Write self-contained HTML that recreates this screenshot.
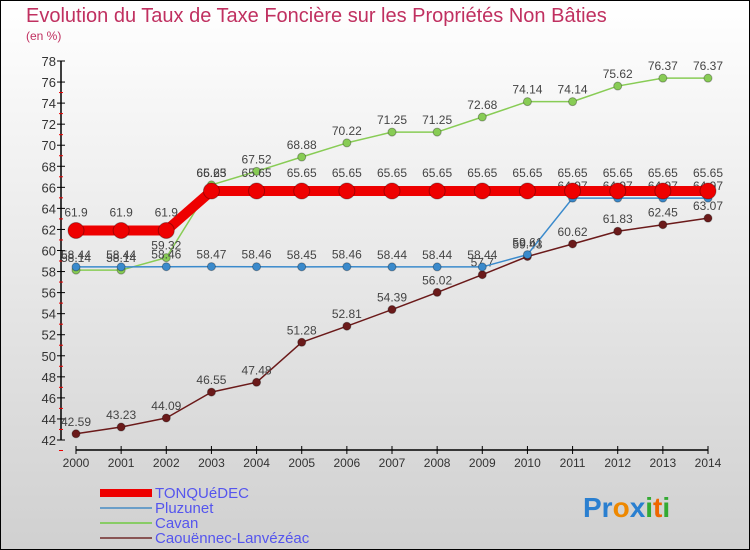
<!DOCTYPE html>
<html><head><meta charset="utf-8"><style>
body{margin:0;}
#wrap{width:750px;height:550px;position:relative;overflow:hidden;font-family:"Liberation Sans",sans-serif;}
svg{position:absolute;left:0;top:0;}
</style></head><body>
<div id="wrap">
<svg id="chart" width="750" height="550">
<defs><linearGradient id="bg" x1="0" y1="0" x2="0" y2="1"><stop offset="0" stop-color="#ffffff"/><stop offset="1" stop-color="#d0d0d0"/></linearGradient></defs>
<rect x="0.5" y="0.5" width="749" height="549" fill="url(#bg)" stroke="#000"/>
<text x="26" y="22" font-size="20" fill="#c03060">Evolution du Taux de Taxe Foncière sur les Propriétés Non Bâties</text>
<text x="26" y="40" font-size="12" fill="#c03060">(en %)</text>
<g id="axes"></g><g id="series"></g>
<g>
<rect x="100" y="489" width="52" height="8" fill="#e00"/>
<text x="155" y="498" font-size="15" fill="#5555ee">TONQUéDEC</text>
<line x1="100" y1="508" x2="152" y2="508" stroke="#6a9ec8" stroke-width="2"/>
<text x="155" y="513" font-size="15" fill="#5555ee">Pluzunet</text>
<line x1="100" y1="523" x2="152" y2="523" stroke="#88cc66" stroke-width="2"/>
<text x="155" y="528" font-size="15" fill="#5555ee">Cavan</text>
<line x1="100" y1="538" x2="152" y2="538" stroke="#885555" stroke-width="2"/>
<text x="155" y="543" font-size="15" fill="#5555ee">Caouënnec-Lanvézéac</text>
</g>
<text x="583" y="517" font-size="28" font-weight="bold"><tspan fill="#2a7fd0">Pr</tspan><tspan fill="#ee8800">o</tspan><tspan fill="#2a7fd0">x</tspan><tspan fill="#33aa33">i</tspan><tspan fill="#ee6600">t</tspan><tspan fill="#33aa33">i</tspan></text>
</svg>
</div>
<script>
const years=[2000,2001,2002,2003,2004,2005,2006,2007,2008,2009,2010,2011,2012,2013,2014];
const yTicks=[42,44,46,48,50,52,54,56,58,60,62,64,66,68,70,72,74,76,78];
const tonquedec=[61.9,61.9,61.9,65.65,65.65,65.65,65.65,65.65,65.65,65.65,65.65,65.65,65.65,65.65,65.65];
const pluzunet=[58.44,58.44,58.46,58.47,58.46,58.45,58.46,58.44,58.44,58.44,59.61,64.97,64.97,64.97,64.97];
const cavan=[58.14,58.14,59.32,66.23,67.52,68.88,70.22,71.25,71.25,72.68,74.14,74.14,75.62,76.37,76.37];
const caouennec=[42.59,43.23,44.09,46.55,47.48,51.28,52.81,54.39,56.02,57.7,59.43,60.62,61.83,62.45,63.07];
const NS="http://www.w3.org/2000/svg";
function xs(i){return 76+i*(708-76)/(years.length-1);}
function ys(v){return 440-(v-42)*(440-61)/36;}
function mk(t,a,p){const e=document.createElementNS(NS,t);for(const k in a)e.setAttribute(k,a[k]);p.appendChild(e);return e;}
const ax=document.getElementById('axes');
const yl=mk('line',{x1:61,y1:61,x2:61,y2:440,stroke:'#000','stroke-width':1.5},ax);


yTicks.forEach(v=>{const y=ys(v);
mk('line',{x1:57,y1:y,x2:65,y2:y,stroke:'#000'},ax);
mk('line',{x1:59,y1:y+10.5,x2:63,y2:y+10.5,stroke:v<78?'#e00':'none'},ax);
const t=mk('text',{x:56,y:y+5,'font-size':13,fill:'#333','text-anchor':'end'},ax);t.textContent=v;

});
const xl=mk('line',{x1:76,y1:450,x2:708,y2:450,stroke:'#000','stroke-width':1.5},ax);


years.forEach((yr,i)=>{const x=xs(i);mk('line',{x1:x,y1:446,x2:x,y2:454,stroke:'#000'},ax);
const t=mk('text',{x:x,y:467,'font-size':12,fill:'#333','text-anchor':'middle'},ax);t.textContent=yr;

});
const sg=document.getElementById('series');
function series(name,data,color,w,r,dy){
const g=mk('g',{},sg);


mk('polyline',{points:data.map((v,i)=>xs(i)+','+ys(v)).join(' '),fill:'none',stroke:color,'stroke-width':w,'stroke-linejoin':'round'},g);
data.forEach((v,i)=>{const c=mk('circle',{cx:xs(i),cy:ys(v),r:r,fill:color,stroke:'rgba(0,0,0,0.3)'},g);


const t=mk('text',{x:xs(i),y:ys(v)-dy,'font-size':12,fill:'#444','text-anchor':'middle'},g);t.textContent=v;

});}
series('caouennec',caouennec,'#6b1a1a',1.5,4,8);
series('cavan',cavan,'#88cc55',1.5,4,8);
series('pluzunet',pluzunet,'#3a8acc',1.5,4,8);
series('tonquedec',tonquedec,'#ee0000',10,8,14);
</script>
</body></html>
